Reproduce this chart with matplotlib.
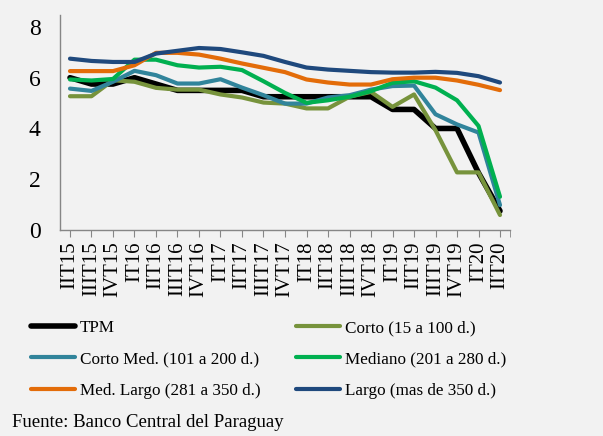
import matplotlib
matplotlib.use("Agg")
import matplotlib.pyplot as plt
from matplotlib.lines import Line2D

plt.rcParams['font.family'] = ['Liberation Serif', 'DejaVu Serif']

quarters = ["IIT15", "IIIT15", "IVT15", "IT16", "IIT16", "IIIT16", "IVT16",
            "IT17", "IIT17", "IIIT17", "IVT17", "IT18", "IIT18", "IIIT18",
            "IVT18", "IT19", "IIT19", "IIIT19", "IVT19", "IT20", "IIT20"]

tpm = [6.0, 5.75, 5.75, 6.0, 5.75, 5.5, 5.5, 5.5, 5.5, 5.25, 5.25, 5.25, 5.25,
       5.25, 5.25, 4.75, 4.75, 4.0, 4.0, 2.25, 0.75]
corto = [5.27, 5.27, 5.9, 5.84, 5.6, 5.53, 5.53, 5.34, 5.22, 5.02, 4.98, 4.79,
         4.79, 5.25, 5.44, 4.85, 5.34, 3.93, 2.27, 2.27, 0.59]
corto_med = [5.57, 5.48, 5.84, 6.27, 6.1, 5.77, 5.77, 5.94, 5.61, 5.31, 4.98,
             4.98, 5.22, 5.31, 5.53, 5.67, 5.69, 4.56, 4.16, 3.84, 0.98]
mediano = [5.93, 5.89, 5.95, 6.71, 6.71, 6.49, 6.4, 6.43, 6.3, 5.86, 5.4, 5.01,
           5.11, 5.25, 5.47, 5.8, 5.86, 5.61, 5.11, 4.1, 1.31]
med_largo = [6.26, 6.26, 6.26, 6.49, 6.98, 6.98, 6.91, 6.75, 6.56, 6.39, 6.22,
             5.93, 5.81, 5.73, 5.73, 5.94, 6.0, 6.0, 5.89, 5.72, 5.51]
largo = [6.75, 6.66, 6.62, 6.62, 6.95, 7.06, 7.17, 7.13, 7.0, 6.86, 6.62, 6.4,
         6.32, 6.27, 6.22, 6.2, 6.2, 6.23, 6.19, 6.06, 5.81]

series_labels = ["TPM", "Corto (15 a 100 d.)", "Corto Med. (101 a 200 d.)",
                 "Mediano (201 a 280 d.)", "Med. Largo (281 a 350 d.)",
                 "Largo (mas de 350 d.)"]

bg = "#F2F2F2"
fig = plt.figure(figsize=(6.03, 4.36), dpi=100, facecolor=bg)
ax = fig.add_axes([60/603, 1-230/436, 450/603, 215/436])
ax.set_facecolor(bg)

x = list(range(len(quarters)))
specs = [
    (tpm, "#000000", 4.0),
    (corto, "#77933C", 3.0),
    (corto_med, "#31849B", 3.0),
    (mediano, "#00B050", 3.0),
    (med_largo, "#E36C09", 3.0),
    (largo, "#1F497D", 3.0),
]
handles = []
for (vals, col, lw), lab in zip(specs, series_labels):
    ax.plot(x, vals, color=col, lw=lw, solid_capstyle='round', solid_joinstyle='round')
    handles.append(Line2D([], [], color=col, lw=lw, solid_capstyle='round'))

ax.set_xlim(-0.465, 20.465)
ax.set_ylim(0, 8.47)
ax.set_yticks([0, 2, 4, 6, 8])
ax.set_xticks(x)
ax.set_xticklabels(quarters, rotation=90, fontsize=15)
ax.set_xticks([20.465], minor=True)
ax.tick_params(axis='y', length=0, labelsize=17, pad=14)
ax.tick_params(axis='x', which='both', length=5, color='#868686', pad=3)
for s in ['top', 'right']:
    ax.spines[s].set_visible(False)
for s in ['left', 'bottom']:
    ax.spines[s].set_color('#868686')
    ax.spines[s].set_linewidth(1.0)

idx = [0, 2, 4, 1, 3, 5]
leg = fig.legend([handles[i] for i in idx],
                 [series_labels[i] for i in idx],
                 ncol=2, loc='upper left', bbox_to_anchor=(31/603, 1-320/436),
                 frameon=False, fontsize=12.3, handlelength=2.55,
                 handletextpad=0.3, columnspacing=2.1, labelspacing=0.9,
                 borderaxespad=0, borderpad=0)

fig.text(12/603, 1-422/436, "Fuente: Banco Central del Paraguay", fontsize=13.5,
         va='center', ha='left')

fig.savefig("out.png", dpi=100, facecolor=bg)
